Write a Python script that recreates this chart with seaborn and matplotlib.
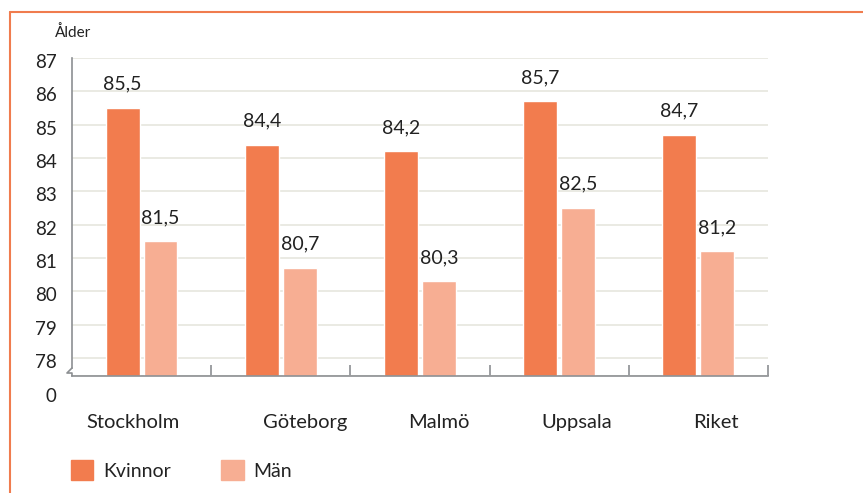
import numpy as np
import pandas as pd
import matplotlib.pyplot as plt
import matplotlib.transforms as mtransforms
from matplotlib.lines import Line2D
from matplotlib.patches import Patch
import seaborn as sns

stader = ['Stockholm', 'Göteborg', 'Malmö', 'Uppsala', 'Riket']
kvinnor = [85.5, 84.4, 84.2, 85.7, 84.7]
man = [81.5, 80.7, 80.3, 82.5, 81.2]
y_ticks = [78, 79, 80, 81, 82, 83, 84, 85, 86, 87]

sns.set_theme(style='white')
plt.rcParams['font.family'] = ['Lato', 'DejaVu Sans']

colors = {'Kvinnor': '#F27C4E', 'Män': '#F7AE93'}
spine_col = '#8C8F92'
text_col = '#222222'

# broken axis: 0 sits a bit below 78
brk = 0.54
def to_axis(v):
    return np.asarray(v) - 78 + brk

df = pd.DataFrame({
    'Stad': stader * 2,
    'Kön': ['Kvinnor'] * len(stader) + ['Män'] * len(stader),
    'Ålder': kvinnor + man,
})
df['h'] = to_axis(df['Ålder'])

fig = plt.figure(figsize=(8.63, 4.93), dpi=100)
ax = fig.add_axes([0.0834, 0.2373, 0.8065, 0.6451])

sns.barplot(data=df, x='Stad', y='h', hue='Kön', palette=colors,
            width=0.545, gap=0.106, saturation=1, legend=False, ax=ax)

for cont, vals in zip(ax.containers, [kvinnor, man]):
    ax.bar_label(cont, labels=[f'{v:.1f}'.replace('.', ',') for v in vals],
                 padding=11, fontsize=14, color=text_col)

ax.set_xlim(-0.5, 4.5)
ax.set_ylim(0, brk + 9)
ax.set_yticks([0] + list(to_axis(y_ticks)))
ax.set_yticklabels(['0'] + [str(t) for t in y_ticks])
ax.yaxis.grid(True, color='#E6E6DE', lw=1.2)
ax.set_axisbelow(True)
ax.set_xlabel('')
ax.set_ylabel('')

ax.set_xticks([0.5, 1.5, 2.5, 3.5, 4.5], minor=True)
ax.tick_params(axis='x', which='minor', direction='in', length=8,
               width=1.2, color=spine_col, bottom=True)
ax.tick_params(axis='x', which='major', length=0, pad=27, labelsize=14.5,
               labelcolor=text_col)
ax.tick_params(axis='y', length=0, pad=11, labelsize=13.5, labelcolor=text_col)

def shift(lab, dx, dy):
    lab.set_transform(lab.get_transform() +
                      mtransforms.ScaledTranslation(dx / 100, dy / 100, fig.dpi_scale_trans))

shift_px = [-9, 24, 19, 18, 17]
for lab, dx in zip(ax.get_xticklabels(), shift_px):
    shift(lab, dx, 0)

for i, lab in enumerate(ax.get_yticklabels()):
    shift(lab, 0, -19 if i == 0 else -3)

for s in ['top', 'right']:
    ax.spines[s].set_visible(False)
for s in ['left', 'bottom']:
    ax.spines[s].set_color(spine_col)
    ax.spines[s].set_linewidth(1.2)

# axis break symbol on the left spine
px_x = 1 / 696
px_y = 1 / 318
ax.spines['left'].set_bounds(8 * px_y * (brk + 9), brk + 9)
zx = [0, -5 * px_x, 0, 0]
zy = [8 * px_y, 3 * px_y, 3 * px_y, 0]
ax.plot(zx, zy, transform=ax.transAxes, color=spine_col, lw=1.2, clip_on=False)

fig.text(55 / 863, 1 - 33 / 493, 'Ålder', fontsize=11, va='center', ha='left',
         color=text_col)

handles = [Patch(color=colors[k], label=k) for k in ['Kvinnor', 'Män']]
fig.legend(handles=handles, loc='center left', bbox_to_anchor=(71 / 863, 1 - 470 / 493),
           ncol=2, frameon=False, fontsize=14, handlelength=1.15, handleheight=1.15,
           handletextpad=0.5, columnspacing=2.6, borderaxespad=0, borderpad=0,
           labelcolor=text_col)

frame_col = '#F07C4E'
fig.add_artist(Line2D([10 / 863, 10 / 863], [0, 1 - 12 / 493],
                      transform=fig.transFigure, color=frame_col, lw=1.5))
fig.add_artist(Line2D([10 / 863, 1], [1 - 12 / 493, 1 - 12 / 493],
                      transform=fig.transFigure, color=frame_col, lw=1.5))

fig.savefig('out.png', dpi=100)
